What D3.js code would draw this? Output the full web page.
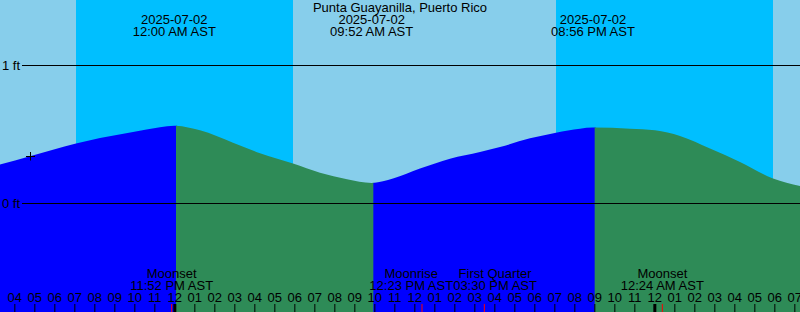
<!DOCTYPE html>
<html>
<head>
<meta charset="utf-8">
<script src="https://cdn.jsdelivr.net/npm/d3@7"></script>
<style>
  html, body { margin: 0; padding: 0; background: #fff; }
  svg { display: block; font-family: "Liberation Sans", Arial, sans-serif; font-size: 13px; }
</style>
</head>
<body>
<div id="chart"></div>
<script>
// Tide plot for one station, local time (AST)
const stationName = "Punta Guayanilla, Puerto Rico";
const domainStart = "2025-07-01 15:17";
const domainEnd = "2025-07-03 07:17";

// predicted water level, ft
const tideTimes = [
  "2025-07-01 15:17", "2025-07-01 16:47", "2025-07-01 19:05", "2025-07-01 20:17",
  "2025-07-01 21:56", "2025-07-01 23:17", "2025-07-02 00:00", "2025-07-02 01:17",
  "2025-07-02 02:56", "2025-07-02 04:17", "2025-07-02 05:56", "2025-07-02 07:17",
  "2025-07-02 08:38", "2025-07-02 09:52", "2025-07-02 10:56", "2025-07-02 12:17",
  "2025-07-02 13:47", "2025-07-02 15:17", "2025-07-02 16:17", "2025-07-02 17:47",
  "2025-07-02 19:05", "2025-07-02 20:17", "2025-07-02 20:56", "2025-07-02 22:47",
  "2025-07-03 00:02", "2025-07-03 01:17", "2025-07-03 02:47", "2025-07-03 04:17",
  "2025-07-03 05:56", "2025-07-03 07:17"
];
const tideHeights = [
  0.282, 0.342, 0.434, 0.474,
  0.518, 0.552, 0.564, 0.530,
  0.441, 0.365, 0.289, 0.222,
  0.176, 0.149, 0.181, 0.253,
  0.325, 0.373, 0.409, 0.472,
  0.513, 0.542, 0.550, 0.542,
  0.530, 0.489, 0.398, 0.301,
  0.181, 0.127
];

// high / low tides
const extremeTimes = ["2025-07-02 00:00", "2025-07-02 09:52", "2025-07-02 20:56"];
const extremeTypes = ["H", "L", "H"];
const sampleLagMin = 5; // fill colour flips on the sample after the extreme

// sunset -> sunrise
const nightStarts = ["2025-07-01 19:05", "2025-07-02 19:05"];
const nightEnds = ["2025-07-02 05:56", "2025-07-03 05:56"];

const moonEvents = ["Moonset", "Moonrise", "First Quarter", "Moonset"];
const moonTimes = ["2025-07-01 23:52", "2025-07-02 12:23", "2025-07-02 15:30", "2025-07-03 00:24"];

const gridFeet = [0, 1];
const nowTime = "2025-07-01 16:47";
const nowHeight = 0.342;

const width = 800, height = 312;
const parse = d3.timeParse("%Y-%m-%d %H:%M");
const fmtDate = d3.timeFormat("%Y-%m-%d");
const fmtTime = d => d3.timeFormat("%I:%M %p")(d) + " AST";

const svg = d3.select("#chart").append("svg")
  .attr("width", width)
  .attr("height", height);

const x = d3.scaleTime()
  .domain([parse(domainStart), parse(domainEnd)])
  .range([0, width]);

const y = d3.scaleLinear()
  .domain([0, 1])
  .range([203.5, 65.5]);

// background + night bands
svg.append("rect")
  .attr("width", width).attr("height", height)
  .attr("fill", "#87CEEB");

svg.selectAll("rect.night")
  .data(nightStarts.map((s, i) => [parse(s), parse(nightEnds[i])]))
  .join("rect")
  .attr("class", "night")
  .attr("x", d => x(d[0]))
  .attr("width", d => x(d[1]) - x(d[0]))
  .attr("y", 0)
  .attr("height", height)
  .attr("fill", "#00BFFF");

// tide area, blue while rising, green while falling
const tide = tideTimes.map((t, i) => ({t: parse(t), h: tideHeights[i]}));
const area = d3.area()
  .x(d => x(d.t))
  .y0(height)
  .y1(d => y(d.h))
  .curve(d3.curveMonotoneX);

const bounds = [
  parse(domainStart),
  ...extremeTimes.map(t => d3.timeMinute.offset(parse(t), sampleLagMin)),
  parse(domainEnd)
];
const defs = svg.append("defs");
for (let i = 0; i < bounds.length - 1; i++) {
  const rising = i < extremeTypes.length
    ? extremeTypes[i] === "H"
    : extremeTypes[extremeTypes.length - 1] === "L";
  const x0 = x(bounds[i]), x1 = x(bounds[i + 1]);
  defs.append("clipPath").attr("id", "seg" + i)
    .append("rect")
    .attr("x", x0).attr("y", 0)
    .attr("width", x1 - x0 + 1).attr("height", height);
  svg.append("path")
    .datum(tide)
    .attr("clip-path", `url(#seg${i})`)
    .attr("fill", rising ? "#0000FF" : "#2E8B57")
    .attr("d", area);
}

// ft reference lines
gridFeet.forEach(f => {
  svg.append("line")
    .attr("x1", 22).attr("x2", width)
    .attr("y1", y(f)).attr("y2", y(f))
    .attr("stroke", "#000").attr("stroke-width", 1);
  svg.append("text")
    .attr("x", 2)
    .attr("y", y(f) + 4.5)
    .attr("fill", "#000")
    .text(`${f} ft`);
});

// title and extreme labels
svg.append("text")
  .attr("x", width / 2).attr("y", 12)
  .attr("text-anchor", "middle")
  .text(stationName);

extremeTimes.forEach(t => {
  const d = parse(t);
  const g = svg.append("g").attr("text-anchor", "middle");
  g.append("text").attr("x", x(d)).attr("y", 24).text(fmtDate(d));
  g.append("text").attr("x", x(d)).attr("y", 36).text(fmtTime(d));
});

// current time marker
const mx = Math.round(x(parse(nowTime))) + 0.5;
const my = Math.round(y(nowHeight)) + 0.5;
svg.append("path")
  .attr("d", `M${mx - 4.5},${my}H${mx + 4.5}M${mx},${my - 4.5}V${my + 4}`)
  .attr("stroke", "#000")
  .attr("fill", "none");

// hour axis
const axis = svg.append("g")
  .attr("transform", `translate(0,${height})`)
  .call(d3.axisTop(x)
    .ticks(d3.timeHour.every(1))
    .tickFormat(d3.timeFormat("%I"))
    .tickSize(8)
    .tickPadding(2));
axis.select(".domain").remove();
axis.attr("font-size", null).attr("font-family", null);
axis.selectAll("text").attr("fill", "#000");
axis.selectAll(".tick line")
  .attr("stroke", "#000")
  .attr("stroke-width", d => d.getHours() === 0 ? 3 : 1);

// moon events
const moon = moonEvents.map((m, i) => ({name: m, t: parse(moonTimes[i])}));
svg.selectAll("line.moon")
  .data(moon)
  .join("line")
  .attr("class", "moon")
  .attr("x1", d => x(d.t)).attr("x2", d => x(d.t))
  .attr("y1", height - 8).attr("y2", height)
  .attr("stroke", "#FF0000");

const mg = svg.selectAll("g.moonlab")
  .data(moon)
  .join("g")
  .attr("class", "moonlab")
  .attr("text-anchor", "middle");
mg.append("text").attr("y", 278).text(d => d.name);
mg.append("text").attr("y", 290).text(d => fmtTime(d.t));

// push overlapping labels apart
mg.each(function(d) {
  d.cx = x(d.t);
  d.w = d3.max(d3.select(this).selectAll("text").nodes(), n => n.getComputedTextLength());
});
for (let k = 0; k < 10; k++) {
  for (let i = 0; i < moon.length - 1; i++) {
    const a = moon[i], b = moon[i + 1];
    const overlap = (a.w / 2 + b.w / 2) - (b.cx - a.cx);
    if (overlap > 0) { a.cx -= overlap / 2; b.cx += overlap / 2; }
  }
}
mg.selectAll("text").attr("x", function() { return d3.select(this.parentNode).datum().cx; });
</script>
</body>
</html>
